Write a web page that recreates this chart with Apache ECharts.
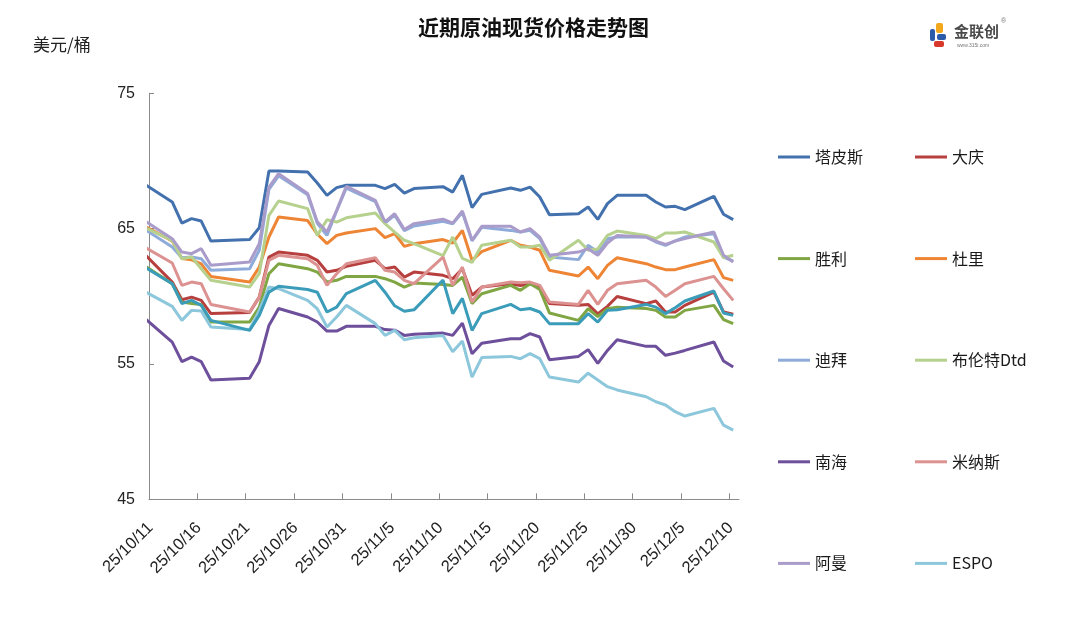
<!DOCTYPE html>
<html>
<head>
<meta charset="utf-8">
<script src="https://cdn.jsdelivr.net/npm/echarts@6/dist/echarts.min.js"></script>
<style>
html,body{margin:0;padding:0;background:#fff;}
#c{width:1092px;height:636px;}
</style>
</head>
<body>
<div id="c"></div>
<script>
// ---- data ----
const dates = ['10/10','10/13','10/14','10/15','10/16','10/17','10/21','10/22','10/23','10/24',
  '10/27','10/28','10/29','10/30','10/31','11/3','11/4','11/5','11/6','11/7',
  '11/10','11/11','11/12','11/13','11/14','11/17','11/18','11/19','11/20','11/21',
  '11/24','11/25','11/26','11/27','11/28','12/1','12/2','12/3','12/4','12/5',
  '12/8','12/9','12/10'];
const tickLabels = ['25/10/11','25/10/16','25/10/21','25/10/26','25/10/31','25/11/5','25/11/10',
  '25/11/15','25/11/20','25/11/25','25/11/30','25/12/5','25/12/10'];
const yTicks = [45, 55, 65, 75];

const tapis = [68.35,66.97,65.41,65.74,65.56,64.08,64.19,65.07,69.26,69.26, 69.18,68.37,67.46,68.03,68.2, 68.2,67.96,68.27,67.63,67.96, 68.1,67.7,68.94,66.55,67.53, 68.0,67.83,68.07,67.34,66.03, 66.1,66.6,65.68,66.85,67.46, 67.46,66.97,66.6,66.65,66.4, 67.39,66.06,65.67];
const daqing = [63.21,61.05,59.75,59.94,59.7,58.72,58.8,59.94,62.9,63.27, 63.03,62.66,61.79,61.92,62.21, 62.66,62.04,62.16,61.42,61.79, 61.55,61.3,62.04,60.07,60.68, 60.93,60.8,60.93,60.68,59.46, 59.33,59.4,58.7,59.26,59.99, 59.46,59.65,58.84,58.84,59.33, 60.31,58.84,58.67];
const shengli = [62.32,60.93,59.57,59.46,59.4,58.1,58.1,59.2,61.67,62.41, 62.04,61.79,61.05,61.18,61.47, 61.47,61.3,61.05,60.68,60.98, 60.88,60.8,61.42,59.46,60.19, 60.81,60.44,60.93,60.5,58.77, 58.22,59.08,58.5,59.08,59.2, 59.1,58.96,58.47,58.47,58.96, 59.33,58.27,57.98];
const duri = [65.23,64.1,62.8,62.7,62.4,61.47,61.05,62.16,64.38,65.86, 65.6,64.6,63.89,64.5,64.68, 65.0,64.33,64.63,63.69,63.89, 64.19,63.94,64.87,62.66,63.3, 64.14,63.77,63.64,63.4,61.92, 61.5,62.16,61.3,62.29,62.85, 62.41,62.16,61.97,61.97,62.16, 62.71,61.38,61.18];
const dubai = [65.03,63.64,62.85,62.9,62.78,61.92,62.04,63.4,67.9,68.9, 67.5,65.4,64.5,66.3,68.0, 67.0,65.4,66.0,64.85,65.2, 65.55,65.35,66.2,64.1,65.1, 64.87,64.75,64.87,64.26,62.9, 62.71,63.77,63.27,64.26,64.38, 64.38,64.01,63.77,64.1,64.38, 64.63,62.9,62.6];
const brent = [65.13,64.14,62.78,62.9,62.04,61.18,60.68,61.67,65.98,67.04, 66.48,64.5,65.66,65.49,65.8, 66.15,65.37,64.75,64.14,63.89, 63.0,64.38,62.8,62.5,63.77, 64.14,63.64,63.64,63.77,62.66, 64.14,63.4,63.5,64.5,64.82, 64.5,64.26,64.68,64.68,64.75, 64.01,62.85,63.03];
const nanhai = [58.47,56.62,55.17,55.51,55.17,53.82,53.94,55.17,57.85,59.1, 58.47,58.1,57.43,57.43,57.78, 57.78,57.54,57.5,57.11,57.19, 57.28,57.11,58.02,55.75,56.53, 56.87,56.87,57.24,56.99,55.32, 55.56,56.06,55.05,56.0,56.79, 56.3,56.3,55.64,55.8,56.0, 56.62,55.22,54.78];
const minas = [63.7,62.46,60.81,61.05,60.93,59.4,58.84,59.94,62.66,63.03, 62.78,62.29,60.81,61.67,62.41, 62.85,61.92,61.79,61.18,60.93, 62.9,60.81,62.16,59.57,60.68, 61.05,61.0,61.05,60.81,59.57, 59.4,60.44,59.4,60.44,60.93, 61.18,60.68,59.99,60.44,60.93, 61.47,60.56,59.7];
const oman = [65.65,64.26,63.27,63.15,63.52,62.29,62.53,63.89,68.07,69.06, 67.6,65.5,64.75,66.35,68.13, 67.09,65.49,66.1,64.93,65.37, 65.7,65.41,66.3,64.14,65.17, 65.17,64.75,65.0,64.38,63.03, 63.27,63.52,63.03,63.94,64.5, 64.38,64.08,63.84,64.08,64.26, 64.75,63.03,62.53];
const espo = [60.42,59.26,58.22,58.96,58.91,57.73,57.54,58.96,60.68,60.56, 59.7,59.08,57.73,58.47,59.33, 57.98,57.11,57.48,56.79,56.94, 57.1,55.9,56.69,54.03,55.47, 55.56,55.39,55.76,55.39,54.03, 53.66,54.32,53.82,53.32,53.08, 52.58,52.21,51.97,51.47,51.15, 51.72,50.48,50.11];
const extra = [62.23,60.93,59.46,59.7,59.33,58.22,57.48,58.59,60.31,60.74, 60.5,60.3,58.84,59.2,60.2, 61.18,60.3,59.3,58.9,59.0, 61.2,58.72,59.85,57.48,58.72, 59.4,59.01,59.1,58.84,57.98, 57.98,58.72,58.1,58.96,59.01, 59.4,59.2,58.72,59.16,59.65, 60.39,58.77,58.59];

// ---- helpers ----
const DAY0 = Date.UTC(2025, 9, 11);
const POINT_OFFSET = 0.4;   // points drawn inside their day slot
const LABEL_SHIFT = 0.15;   // rotated labels sit slightly right of their tick
function dayIndex(md) {
  const [m, d] = md.split('/').map(Number);
  return (Date.UTC(2025, m - 1, d) - DAY0) / 86400000;
}
const tickValues = tickLabels.map((_, i) => i * 5);
const labelValues = tickValues.map(v => v + LABEL_SHIFT);

const seriesDefs = [
  ['塔皮斯', tapis, '#4371AE'],
  ['大庆', daqing, '#B73F3E'],
  ['胜利', shengli, '#80A644'],
  ['杜里', duri, '#EE8535'],
  ['迪拜', dubai, '#8EABD9'],
  ['布伦特Dtd', brent, '#B6D18E'],
  ['南海', nanhai, '#6D4F9C'],
  ['米纳斯', minas, '#DB9290'],
  ['阿曼', oman, '#AA9CCA'],
  ['ESPO', espo, '#8DC7DB'],
  ['', extra, '#3A9CB9']
];

const series = seriesDefs.map(([name, vals, color]) => ({
  name: name,
  type: 'line',
  symbol: 'none',
  showSymbol: false,
  clip: true,
  color: color,
  lineStyle: { width: 3, color: color },
  data: dates.map((d, i) => [dayIndex(d) + POINT_OFFSET, vals[i]])
}));

const FONT = '"Noto Sans CJK SC", "Liberation Sans", sans-serif';
const legendBase = {
  orient: 'vertical',
  top: 144,
  icon: 'rect',
  itemWidth: 32,
  itemHeight: 3,
  itemGap: 85.6,
  selectedMode: false,
  textStyle: { fontSize: 16, lineHeight: 16, color: '#1a1a1a', fontFamily: FONT, padding: [0, 0, 0, 0] }
};

const chart = echarts.init(document.getElementById('c'), null, { renderer: 'canvas' });
chart.setOption({
  animation: false,
  backgroundColor: '#fff',
  grid: { left: 149, right: 353, top: 93.3, bottom: 136.7, containLabel: false },
  legend: [
    Object.assign({}, legendBase, { left: 773, data: ['塔皮斯', '胜利', '迪拜', '南海', '阿曼'] }),
    Object.assign({}, legendBase, { left: 910, data: ['大庆', '杜里', '布伦特Dtd', '米纳斯', 'ESPO'] })
  ],
  xAxis: {
    type: 'value',
    min: 0,
    max: 61,
    splitLine: { show: false },
    axisLine: { show: true, lineStyle: { color: '#8a8a8a', width: 1 } },
    axisTick: { show: true, inside: true, length: 6, lineStyle: { color: '#8a8a8a' }, customValues: tickValues },
    axisLabel: {
      customValues: labelValues,
      rotate: 45,
      margin: 26,
      fontSize: 16.5,
      color: '#222',
      fontFamily: '"Liberation Sans", Arial, sans-serif',
      formatter: function (v) { return tickLabels[Math.round((v - LABEL_SHIFT) / 5)] || ''; }
    }
  },
  yAxis: {
    type: 'value',
    min: yTicks[0],
    max: yTicks[yTicks.length - 1],
    interval: 10,
    splitLine: { show: false },
    axisLine: { show: true, lineStyle: { color: '#8a8a8a', width: 1 } },
    axisTick: { show: true, inside: true, length: 5, lineStyle: { color: '#8a8a8a' } },
    axisLabel: { fontSize: 16, color: '#222', margin: 14, fontFamily: '"Liberation Sans", Arial, sans-serif' }
  },
  graphic: [
    { type: 'text', left: 418, top: 17, style: { text: '近期原油现货价格走势图', font: 'bold 21px "Noto Sans CJK SC"', fill: '#111' } },
    { type: 'text', left: 33, top: 36, style: { text: '美元/桶', font: '17px "Noto Sans CJK SC"', fill: '#222' } },
    // logo
    { type: 'group', left: 930, top: 18, children: [
      { type: 'rect', shape: { x: 2, y: 8, width: 5, height: 12, r: 2 }, style: { fill: '#2B5CAA' } },
      { type: 'rect', shape: { x: 8, y: 2, width: 7, height: 10, r: 2 }, style: { fill: '#F2A81D' } },
      { type: 'rect', shape: { x: 9, y: 13, width: 9, height: 6, r: 2 }, style: { fill: '#2B5CAA' } },
      { type: 'rect', shape: { x: 6, y: 20, width: 10, height: 6, r: 2 }, style: { fill: '#D8392B' } },
      { type: 'text', x: 26, y: 3, style: { text: '金联创', font: 'bold 15px "Noto Sans CJK SC"', fill: '#4a4a4a' } },
      { type: 'text', x: 73, y: -3, style: { text: '®', font: '7px "Liberation Sans"', fill: '#777' } },
      { type: 'text', x: 29, y: 22, style: { text: 'www.315i.com', font: '5px "Liberation Sans"', fill: '#777' } }
    ]}
  ],
  series: series
});
</script>
</body>
</html>
